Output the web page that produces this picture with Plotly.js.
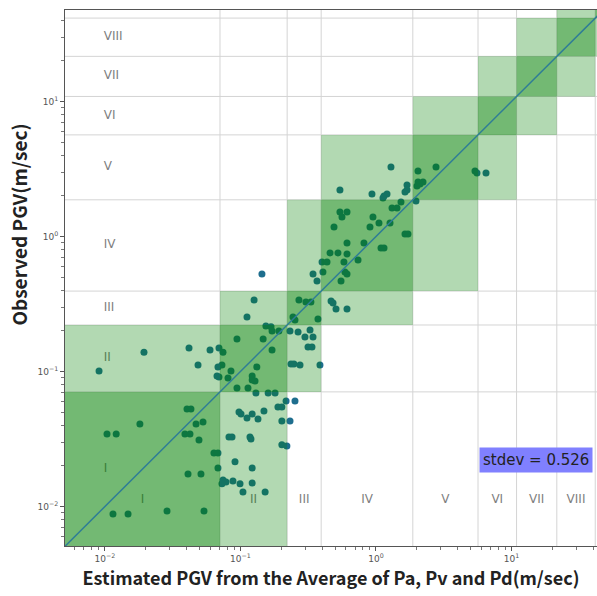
<!DOCTYPE html>
<html>
<head>
<meta charset="utf-8">
<script src="https://cdn.plot.ly/plotly-3.0.1.min.js"></script>
<style>html,body{margin:0;padding:0;background:#fff;}#chart{width:597px;height:596px;}</style>
</head>
<body>
<div id="chart"></div>
<script>
// Intensity classes and their PGV class boundaries (m/sec)
const classNames = ['I','II','III','IV','V','VI','VII','VIII'];
const classBounds = [0.0706, 0.221, 0.394, 1.87, 5.66, 10.9, 21.6, 41.5];

// Tick values and labels
const tickVals = [0.01, 0.1, 1, 10];
const tickText = ['10<sup>−2</sup>', '10<sup>−1</sup>', '10<sup>0</sup>', '10<sup>1</sup>'];

// Estimated PGV (x) and observed PGV (y)
const estPGV = [
  0.0194,0.00904,0.0417,0.0596,0.0694,0.0743,0.0486,0.0682,0.0730,0.0671,0.0694,
  0.0403,0.0431,0.0181,0.0470,0.0529,0.01035,0.0121,0.0389,0.0424,0.0494,0.0637,
  0.0682,0.0682,0.0743,0.0782,0.0730,0.0410,0.0511,0.01146,0.0148,0.0287,0.0538,
  0.1117,0.244,0.2525,0.373,0.154,0.168,0.171,0.192,0.232,0.266,0.299,0.326,0.343,
  0.337,0.315,0.0942,0.147,0.171,0.0851,0.0809,0.132,0.122,0.122,0.128,0.236,0.248,
  0.275,0.386,0.0942,0.1136,0.130,0.160,0.180,0.217,0.2525,0.189,0.202,0.149,0.0975,
  0.1009,0.122,0.1346,0.1117,0.202,0.232,0.0822,0.0866,0.1175,0.1195,0.202,0.220,
  0.0911,0.122,0.0880,0.0992,0.122,0.1043,0.152,
  0.126,0.144,0.270,0.304,0.331,0.466,0.482,0.507,0.611,0.343,0.367,0.406,0.590,
  0.611,0.552,0.400,0.435,0.580,0.737,0.458,0.524,0.611,0.611,0.815,1.089,1.146,
  0.490,0.903,1.637,1.722,0.542,0.611,0.561,0.950,1.052,1.269,1.313,1.429,1.529,
  1.973,0.542,0.934,1.146,1.206,1.126,1.694,1.694,1.637,2.042,2.223,2.112,2.007,
  1.290,2.042,2.773,5.378,5.564,6.484
];
const obsPGV = [
  0.139,0.1009,0.149,0.1443,0.149,0.139,0.1117,0.108,0.1117,0.0926,0.0911,
  0.0528,0.0528,0.0409,0.0409,0.0423,0.0344,0.0344,0.0344,0.0344,0.0311,0.0249,
  0.0249,0.0193,0.0157,0.0152,0.0147,0.0174,0.0174,0.0088,0.0088,0.00926,0.00926,
  0.253,0.253,0.241,0.245,0.217,0.214,0.1995,0.1995,0.1995,0.196,0.180,0.203,0.180,
  0.152,0.152,0.174,0.174,0.1443,0.1009,0.0895,0.108,0.0926,0.0865,0.0851,0.1137,0.1137,
  0.1117,0.1117,0.0755,0.0755,0.0693,0.0693,0.0693,0.0605,0.0605,0.0546,0.0546,0.0510,0.0501,
  0.0484,0.0484,0.0445,0.0452,0.0430,0.0430,0.0327,0.0327,0.0327,0.0316,0.0286,0.0281,
  0.0214,0.0193,0.01545,0.0147,0.0149,0.0128,0.0128,
  0.339,0.528,0.339,0.327,0.327,0.333,0.322,0.290,0.290,0.528,0.468,0.546,0.546,
  0.528,0.468,0.647,0.647,0.647,0.670,0.755,0.755,0.742,0.895,0.895,0.822,0.822,
  1.176,1.176,1.043,1.043,1.519,1.519,1.394,1.394,1.259,1.259,1.626,1.626,1.801,
  1.832,2.210,2.064,1.995,2.064,1.929,2.407,2.210,2.136,2.533,2.533,2.448,2.366,
  3.272,3.057,3.272,3.057,2.953,2.953
];
const stdevValue = 0.526;

// axis ranges (log10)
const xRange = [-2.295, 1.631];
const yRange = [-2.293, 1.678];

const darkGreen = 'rgba(0,128,0,0.55)';
const lightGreen = 'rgba(0,128,0,0.30)';
const gridColor = '#d4d4d4';
const labelColor = '#808080';

function classLo(k, rng){ return k === 0 ? Math.pow(10, rng[0]) : classBounds[k-1]; }
function classHi(k, rng){ return k >= classBounds.length ? Math.pow(10, rng[1]) : classBounds[k]; }
function logMid(a, b){ return Math.pow(10, (Math.log10(a) + Math.log10(b)) / 2); }

// minor tick positions (2..9 in each decade) - styling only
const minorVals = [];
for (let d = -3; d <= 1; d++) for (let m = 2; m <= 9; m++) minorVals.push(m * Math.pow(10, d));

const nClass = classBounds.length + 1;
const shapes = [];
classBounds.forEach(b => {
  shapes.push({type:'line', layer:'below', xref:'x', yref:'paper', x0:b, x1:b, y0:0, y1:1, line:{color:gridColor, width:1}});
  shapes.push({type:'line', layer:'below', xref:'paper', yref:'y', x0:0, x1:1, y0:b, y1:b, line:{color:gridColor, width:1}});
});
for (let i = 0; i < nClass; i++) {
  for (let j = 0; j < nClass; j++) {
    const d = Math.abs(i - j);
    if (d > 1) continue;
    shapes.push({
      type:'rect', layer:'above', xref:'x', yref:'y',
      x0: classLo(j, xRange), x1: classHi(j, xRange),
      y0: classLo(i, yRange), y1: classHi(i, yRange),
      fillcolor: d === 0 ? darkGreen : lightGreen, line:{width:0}
    });
  }
}
const lo = Math.pow(10, Math.min(xRange[0], yRange[0]));
const hi = Math.pow(10, Math.max(xRange[1], yRange[1]));
shapes.push({type:'line', layer:'above', xref:'x', yref:'y', x0:lo, y0:lo, x1:hi, y1:hi, line:{color:'#2f7d96', width:1.5}});

const colLabelX = classNames.map((n, k) => logMid(classLo(k, xRange), classHi(k, xRange)));
const rowLabelY = classNames.map((n, k) => logMid(classLo(k, yRange), classHi(k, yRange)));

const traces = [
  {
    type:'scatter', mode:'text', x: colLabelX, y: classNames.map(() => 0.0112),
    text: classNames, textposition:'middle center',
    textfont:{family:'DejaVu Sans, sans-serif', size:12, color:labelColor},
    hoverinfo:'skip', showlegend:false
  },
  {
    type:'scatter', mode:'text', x: classNames.map(() => 0.0098), y: rowLabelY,
    text: classNames, textposition:'middle right',
    textfont:{family:'DejaVu Sans, sans-serif', size:12, color:labelColor},
    hoverinfo:'skip', showlegend:false
  },
  {
    type:'scatter', mode:'markers', x: estPGV, y: obsPGV,
    marker:{size:7, color:'#1e6e8e', line:{width:0}},
    showlegend:false
  }
];

const axisCommon = {
  type:'log', showgrid:false, zeroline:false,
  showline:true, mirror:true, linecolor:'#555', linewidth:1,
  ticks:'outside', ticklen:4, tickcolor:'#555', tickwidth:1,
  tickmode:'array', tickvals: tickVals, ticktext: tickText,
  tickfont:{family:'DejaVu Sans, sans-serif', size:9, color:'#555'},
  minor:{tickmode:'array', tickvals: minorVals, ticks:'outside', ticklen:3, tickcolor:'#777', showgrid:false}
};

const layout = {
  width:597, height:596,
  margin:{l:65, r:0, t:10, b:50},
  paper_bgcolor:'#ffffff', plot_bgcolor:'#ffffff',
  showlegend:false,
  xaxis: Object.assign({}, axisCommon, {
    range: xRange,
    title:{text:'Estimated PGV from the Average of Pa, Pv and Pd(m/sec)', standoff:8,
      font:{family:'Noto Sans CJK KR, Noto Sans, sans-serif', size:18, color:'#222', weight:'bold'}}
  }),
  yaxis: Object.assign({}, axisCommon, {
    range: yRange
  }),
  shapes: shapes,
  annotations:[
    {
      xref:'paper', yref:'paper', x:0.993, y:0.161, xanchor:'right', yanchor:'middle',
      text:'stdev = ' + stdevValue, showarrow:false,
      font:{family:'DejaVu Sans, sans-serif', size:15, color:'#222'},
      bgcolor:'#8080ff', borderpad:3
    },
    {
      xref:'paper', yref:'paper', x:-0.088, y:0.60, xanchor:'center', yanchor:'middle',
      text:'Observed PGV(m/sec)', textangle:-90, showarrow:false,
      font:{family:'Noto Sans CJK KR, Noto Sans, sans-serif', size:19, color:'#222', weight:'bold'}
    }
  ]
};

Plotly.newPlot('chart', traces, layout, {staticPlot:true, displayModeBar:false});
</script>
</body>
</html>
